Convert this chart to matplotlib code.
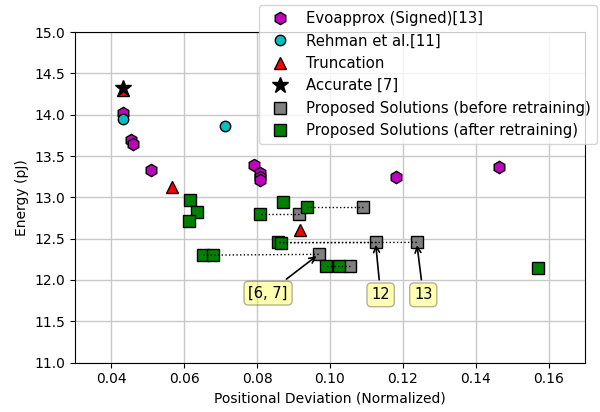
import matplotlib.pyplot as plt
import numpy as np

# Evoapprox (Signed) multipliers
evo_dev = [0.0431, 0.0453, 0.0460, 0.0508, 0.0792, 0.0807, 0.0808, 0.0809, 0.1180, 0.1464]
evo_energy = [14.02, 13.69, 13.64, 13.33, 13.39, 13.29, 13.25, 13.21, 13.25, 13.37]

rehman_dev = [0.0431, 0.0711]
rehman_energy = [13.95, 13.86]

trunc_dev = [0.0431, 0.0565, 0.0919]
trunc_energy = [14.30, 13.12, 12.60]

acc_dev = [0.0431]
acc_energy = [14.32]

# proposed solutions before retraining
before_dev = [0.1090, 0.0916, 0.1125, 0.1238, 0.0969, 0.1055]
before_energy = [12.88, 12.80, 12.46, 12.455, 12.31, 12.17]

# proposed solutions after retraining
after_dev = [0.0615, 0.0636, 0.0612, 0.0871, 0.0809, 0.0938, 0.0857, 0.0866,
             0.0652, 0.0679, 0.0988, 0.1024, 0.1571]
after_energy = [12.97, 12.82, 12.71, 12.94, 12.80, 12.88, 12.46, 12.45,
                12.30, 12.30, 12.17, 12.17, 12.14]

# dotted links: (index in before, index in after)
links = [(0, 5), (1, 4), (2, 6), (3, 7), (4, 8), (5, 10)]

# annotations: label, index in before, text position
notes = [('[6, 7]', 4, (0.0830, 11.84)),
         ('12', 2, (0.1139, 11.82)),
         ('13', 3, (0.1256, 11.82))]

fig, ax = plt.subplots(figsize=(6, 4.12), dpi=100)
fig.subplots_adjust(left=0.125, right=0.975, bottom=0.12, top=0.922)

ax.grid(True, color='#c8c8c8', linewidth=1)
ax.set_axisbelow(True)

ax.plot(evo_dev, evo_energy, 'h', color='m', mec='k', ms=8.8, label='Evoapprox (Signed)[13]')
ax.plot(rehman_dev, rehman_energy, 'o', color='c', mec='k', ms=7.5, label='Rehman et al.[11]')
ax.plot(trunc_dev, trunc_energy, '^', color='r', mec='k', ms=8.5, label='Truncation')
ax.plot(acc_dev, acc_energy, '*', color='k', mec='k', ms=12, label='Accurate [7]')
ax.plot(before_dev, before_energy, 's', color='gray', mec='k', ms=9,
        label='Proposed Solutions (before retraining)')
ax.plot(after_dev, after_energy, 's', color='g', mec='k', ms=9,
        label='Proposed Solutions (after retraining)')

for b, a in links:
    ax.plot([before_dev[b], after_dev[a]], [before_energy[b], after_energy[a]],
            ':', color='k', lw=1, zorder=5)

for txt, i, pos in notes:
    ax.annotate(txt, xy=(before_dev[i], before_energy[i]), xytext=pos,
                ha='center', va='center', fontsize=10.5,
                bbox=dict(boxstyle='round,pad=0.3', fc='yellow', alpha=0.3),
                arrowprops=dict(arrowstyle='->', color='k', lw=1.2))

ax.set_xlim(0.03, 0.17)
ax.set_ylim(11.0, 15.0)
ax.set_xticks(np.arange(0.04, 0.17, 0.02))
ax.set_yticks(np.arange(11.0, 15.01, 0.5))
ax.set_xlabel('Positional Deviation (Normalized)')
ax.set_ylabel('Energy (pJ)')

ax.legend(loc='upper right', bbox_to_anchor=(1.0235, 1.082), borderaxespad=0,
          fontsize=10.7)

plt.savefig('out.png')
